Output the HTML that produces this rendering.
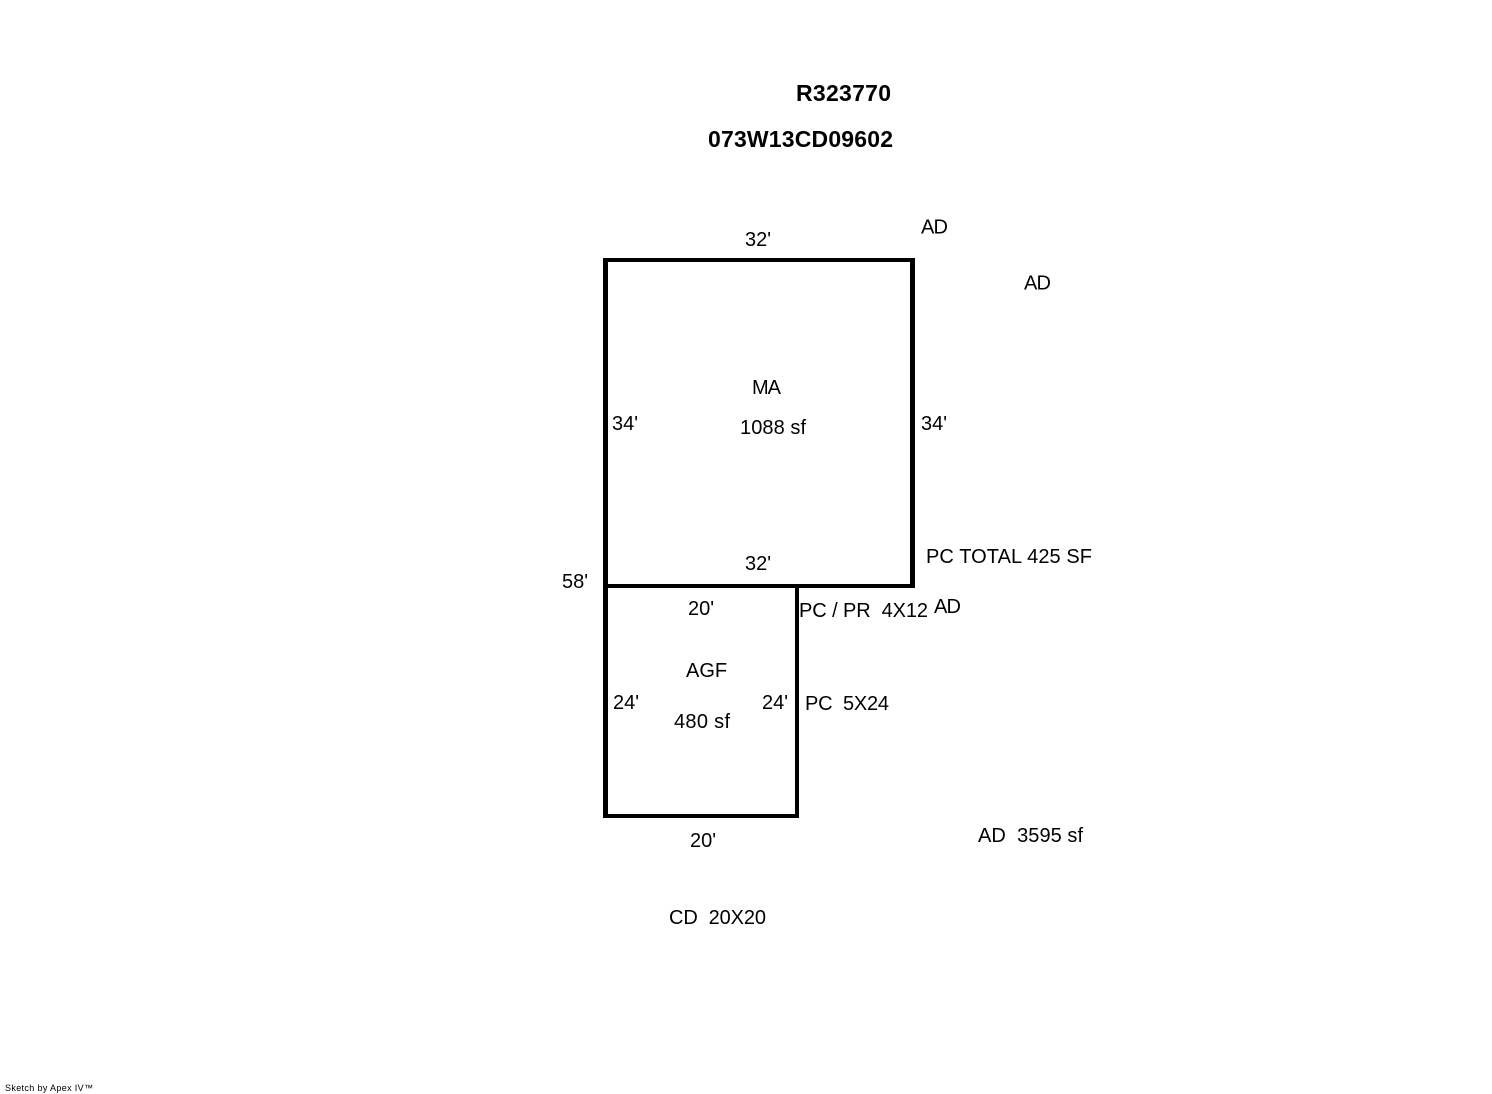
<!DOCTYPE html>
<html>
<head>
<meta charset="utf-8">
<style>
html,body{margin:0;padding:0;background:#fff;width:1492px;height:1094px;overflow:hidden}
svg{display:block}
text{font-family:"Liberation Sans",sans-serif;font-size:20px;fill:#000}
.b{font-weight:bold;font-size:23px}
</style>
</head>
<body>
<svg width="1492" height="1094" viewBox="0 0 1492 1094" xmlns="http://www.w3.org/2000/svg">
<rect width="1492" height="1094" fill="#fff"/>
<g fill="#000">
<rect x="603" y="258" width="312" height="4"/>
<rect x="603" y="258" width="5" height="560"/>
<rect x="910" y="258" width="5" height="330"/>
<rect x="603" y="584" width="312" height="4"/>
<rect x="795" y="584" width="4" height="234"/>
<rect x="603" y="814" width="196" height="4"/>
</g>
<text class="b" x="796" y="101" textLength="95">R323770</text>
<text class="b" x="708" y="147" textLength="185">073W13CD09602</text>
<text x="745" y="246">32'</text>
<text x="921" y="233.5" textLength="27">AD</text>
<text x="1024" y="289.5" textLength="27">AD</text>
<text x="752" y="394" textLength="29">MA</text>
<text x="740" y="434" textLength="66">1088 sf</text>
<text x="612" y="430">34'</text>
<text x="921" y="430">34'</text>
<text x="745" y="570">32'</text>
<text x="926" y="563" textLength="166">PC TOTAL 425 SF</text>
<text x="562" y="588">58'</text>
<text x="688" y="615">20'</text>
<text x="799" y="617" xml:space="preserve" textLength="129">PC / PR  4X12</text>
<text x="934" y="613" textLength="27">AD</text>
<text x="686" y="677">AGF</text>
<text x="613" y="709">24'</text>
<text x="762" y="709">24'</text>
<text x="805" y="710" xml:space="preserve" textLength="84">PC  5X24</text>
<text x="674" y="728" textLength="56">480 sf</text>
<text x="690" y="847">20'</text>
<text x="978" y="842" xml:space="preserve" textLength="105">AD  3595 sf</text>
<text x="669" y="924" xml:space="preserve" textLength="97">CD  20X20</text>
<text x="5" y="1091" style="font-size:9px" textLength="88">Sketch by Apex IV™</text>
</svg>
</body>
</html>
